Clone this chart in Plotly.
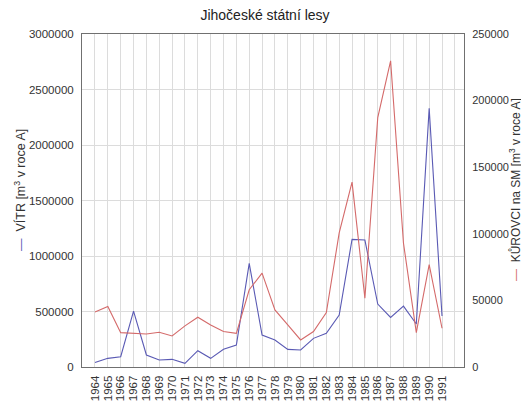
import plotly.graph_objects as go

years = list(range(1964, 1992))
vitr = [40000, 78000, 93000, 504000, 108000, 63000, 69000, 33000, 147000, 78000,
        159000, 198000, 934000, 288000, 243000, 159000, 153000, 258000, 303000, 468000,
        1150000, 1144000, 567000, 447000, 549000, 387000, 2330000, 459000]
kurovci = [41200, 45400, 25800, 25300, 24800, 26100, 23300, 30900, 37400, 31600,
           26600, 25300, 58000, 70500, 42900, 31600, 20300, 26600, 40900, 100700,
           138800, 51700, 187200, 229900, 93100, 25800, 76800, 29100]
left_ticks = [0, 500000, 1000000, 1500000, 2000000, 2500000, 3000000]
right_ticks = [0, 50000, 100000, 150000, 200000, 250000]

BLUE = "#5a5ab4"
RED = "#d46a6a"
FONT = "Liberation Sans, Arial, sans-serif"

# the page body has an 8px default margin; lay out in window pixels, then shift
OFF = 8
W, H = 529 - OFF, 401 - OFF
L, R, T, B = 82 - OFF, 464 - OFF, 34 - OFF, 367 - OFF

def px(x):
    return (x - OFF - L) / (R - L)

def py(y):
    return (B - (y - OFF)) / (B - T)

fig = go.Figure()
fig.add_trace(go.Scatter(x=years, y=vitr, mode="lines", line=dict(color=BLUE, width=1.1),
                         name="VÍTR", yaxis="y"))
fig.add_trace(go.Scatter(x=years, y=kurovci, mode="lines", line=dict(color=RED, width=1.1),
                         name="KŮROVCI", yaxis="y2"))

left_title = "<span style='color:%s'>—</span>  VÍTR [m<sup>3</sup> v roce A]" % BLUE
right_title = "<span style='color:%s'>—</span>  KŮROVCI na SM [m<sup>3</sup> v roce A]" % RED

xt = years + [1992]
fig.update_layout(
    width=W, height=H,
    margin=dict(l=L, r=W - R, t=T, b=H - B, pad=0, autoexpand=False),
    paper_bgcolor="white", plot_bgcolor="white",
    showlegend=False,
    font=dict(family=FONT, size=11.5, color="#333333"),
    title=dict(text="Jihočeské státní lesy", x=(265 - OFF) / W, xref="container",
               xanchor="center", y=1 - (15 - OFF) / H, yanchor="middle",
               font=dict(size=14, color="#222222")),
    xaxis=dict(range=[1962.99, 1992.71], tickmode="array", tickvals=xt,
               ticktext=[str(y) for y in years] + [" "], tickangle=-90,
               showgrid=True, gridcolor="#dcdcdc", gridwidth=1,
               showline=True, linecolor="#707070", linewidth=1, mirror=True,
               ticks="outside", ticklen=3, tickcolor="rgba(0,0,0,0)",
               zeroline=False, automargin=False),
    yaxis=dict(range=[0, 3000000], tickmode="array", tickvals=left_ticks,
               ticktext=[str(v) for v in left_ticks],
               showgrid=True, gridcolor="#dcdcdc", gridwidth=1,
               showline=True, linecolor="#707070", linewidth=1,
               ticks="outside", ticklen=5, tickcolor="rgba(0,0,0,0)",
               zeroline=False, automargin=False),
    yaxis2=dict(range=[0, 250000], overlaying="y", side="right", tickmode="array",
                tickvals=right_ticks, ticktext=[str(v) for v in right_ticks],
                tickfont=dict(size=11),
                showgrid=False, showline=True, linecolor="#707070", linewidth=1,
                ticks="outside", ticklen=5, tickcolor="rgba(0,0,0,0)",
                zeroline=False, automargin=False),
)

fig.add_annotation(text=left_title, textangle=-90, xref="paper", yref="paper",
                   x=px(20), y=py(190), xanchor="center", yanchor="middle",
                   showarrow=False, font=dict(size=12.5, color="#333333"))
fig.add_annotation(text=right_title, textangle=-90, xref="paper", yref="paper",
                   x=px(515), y=py(190), xanchor="center", yanchor="middle",
                   showarrow=False, font=dict(size=12, color="#333333"))

fig.write_html("out.html")
